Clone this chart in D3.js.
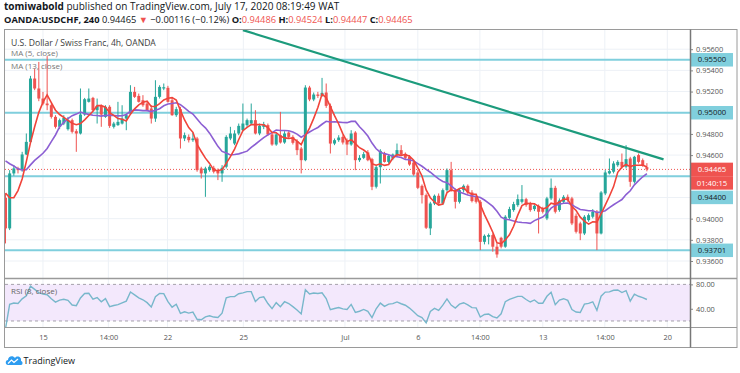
<!DOCTYPE html>
<html>
<head>
<meta charset="utf-8">
<script src="https://cdn.jsdelivr.net/npm/d3@7"></script>
<style>
  body { margin: 0; background: #fff; }
  svg { display: block; font-family: "Open Sans", sans-serif; }
</style>
</head>
<body>
<svg id="chart" width="740" height="373"></svg>
<script>
// closes before the first visible bar, only used to warm up MA / RSI
const leadCloses = [0.9478, 0.9475, 0.9480, 0.9474, 0.9470, 0.9473, 0.9468, 0.9470, 0.9465, 0.9447, 0.9412, 0.9406];

const opens = [
  0.94197, 0.93908, 0.94427, 0.94474, 0.94458, 0.94606, 0.94725, 0.95323, 0.95229, 0.95134,
  0.95087, 0.95071, 0.94961, 0.94867, 0.94898, 0.94845, 0.94930, 0.94826, 0.94804, 0.94983,
  0.95103, 0.95140, 0.95024, 0.95065, 0.94961, 0.95056, 0.94867, 0.94883, 0.94898, 0.94945,
  0.94993, 0.95197, 0.95159, 0.95118, 0.95087, 0.95040, 0.94945, 0.95150, 0.95229, 0.95235,
  0.95118, 0.94977, 0.95034, 0.94757, 0.94772, 0.94741, 0.94757, 0.94474, 0.94427, 0.94458,
  0.94480, 0.94458, 0.94427, 0.94490, 0.94757, 0.94709, 0.94804, 0.94835, 0.94883, 0.94898,
  0.94930, 0.94804, 0.94867, 0.94883, 0.94795, 0.94700, 0.94788, 0.94719, 0.94813, 0.94772,
  0.94732, 0.94662, 0.94552, 0.95238, 0.95125, 0.95172, 0.95159, 0.95191, 0.95065, 0.94709,
  0.94741, 0.94772, 0.94732, 0.94700, 0.94813, 0.94552, 0.94574, 0.94625, 0.94562, 0.94301,
  0.94486, 0.94615, 0.94536, 0.94568, 0.94600, 0.94647, 0.94612, 0.94584, 0.94530, 0.94436,
  0.94310, 0.94222, 0.93908, 0.94143, 0.94216, 0.94143, 0.94269, 0.94458, 0.94269, 0.94159,
  0.94269, 0.94310, 0.94247, 0.94206, 0.94159, 0.93781, 0.93829, 0.93845, 0.93735, 0.93819,
  0.93735, 0.94008, 0.94081, 0.94128, 0.94159, 0.94184, 0.94143, 0.94090, 0.94121, 0.94090,
  0.94002, 0.94191, 0.94291, 0.94081, 0.94159, 0.94206, 0.94191, 0.94027, 0.93955, 0.93860,
  0.93986, 0.94018, 0.94065, 0.93860, 0.94238, 0.94427, 0.94443, 0.94505, 0.94536, 0.94490,
  0.94568, 0.94348, 0.94600, 0.94552, 0.94486
];
const highs = [
  0.94238, 0.94458, 0.94505, 0.94490, 0.94631, 0.94804, 0.95348, 0.95417, 0.95480, 0.95197,
  0.95535, 0.95087, 0.94977, 0.94945, 0.94977, 0.94961, 0.94945, 0.94845, 0.95229, 0.95140,
  0.95229, 0.95150, 0.95134, 0.95078, 0.95071, 0.95071, 0.94914, 0.95103, 0.95071, 0.94993,
  0.95260, 0.95244, 0.95181, 0.95166, 0.95109, 0.95071, 0.95307, 0.95260, 0.95276, 0.95254,
  0.95140, 0.95056, 0.95056, 0.94813, 0.94795, 0.94813, 0.94772, 0.94490, 0.94490, 0.94505,
  0.94499, 0.94474, 0.94505, 0.94788, 0.94867, 0.94835, 0.94898, 0.95087, 0.94945, 0.95087,
  0.95024, 0.94898, 0.94914, 0.94898, 0.94813, 0.94813, 0.95008, 0.94826, 0.94826, 0.94788,
  0.94750, 0.94678, 0.95260, 0.95254, 0.95191, 0.95197, 0.95329, 0.95276, 0.95087, 0.94757,
  0.94788, 0.94788, 0.94757, 0.94835, 0.94826, 0.94600, 0.94631, 0.94647, 0.94574, 0.94505,
  0.94656, 0.94631, 0.94606, 0.94615, 0.94709, 0.94694, 0.94625, 0.94600, 0.94542, 0.94458,
  0.94323, 0.94238, 0.94159, 0.94228, 0.94238, 0.94285, 0.94474, 0.94536, 0.94285, 0.94285,
  0.94323, 0.94323, 0.94269, 0.94222, 0.94175, 0.93851, 0.93860, 0.93860, 0.93766, 0.93829,
  0.94033, 0.94112, 0.94159, 0.94228, 0.94317, 0.94197, 0.94159, 0.94134, 0.94134, 0.94112,
  0.94206, 0.94379, 0.94310, 0.94191, 0.94222, 0.94228, 0.94206, 0.94049, 0.93971, 0.94033,
  0.94049, 0.94090, 0.94081, 0.94260, 0.94458, 0.94568, 0.94542, 0.94552, 0.94615, 0.94694,
  0.94584, 0.94593, 0.94615, 0.94568, 0.94524
];
const lows = [
  0.93766, 0.93892, 0.94405, 0.94427, 0.94443, 0.94600, 0.94709, 0.95213, 0.95109, 0.95071,
  0.95024, 0.94945, 0.94851, 0.94845, 0.94883, 0.94832, 0.94804, 0.94631, 0.94795, 0.94971,
  0.95096, 0.95015, 0.94898, 0.94867, 0.94952, 0.94857, 0.94851, 0.94876, 0.94889, 0.94835,
  0.94983, 0.95140, 0.95096, 0.95056, 0.95015, 0.94898, 0.94914, 0.95134, 0.95213, 0.95096,
  0.94971, 0.94961, 0.94662, 0.94732, 0.94719, 0.94725, 0.94443, 0.94379, 0.94206, 0.94443,
  0.94427, 0.94364, 0.94348, 0.94474, 0.94741, 0.94694, 0.94788, 0.94826, 0.94867, 0.94883,
  0.94795, 0.94788, 0.94845, 0.94782, 0.94688, 0.94688, 0.94709, 0.94707, 0.94757, 0.94700,
  0.94600, 0.94427, 0.94542, 0.95109, 0.95109, 0.95140, 0.95150, 0.95046, 0.94615, 0.94694,
  0.94725, 0.94700, 0.94600, 0.94688, 0.94458, 0.94536, 0.94562, 0.94542, 0.94269, 0.94285,
  0.94332, 0.94530, 0.94521, 0.94552, 0.94584, 0.94593, 0.94562, 0.94499, 0.94405, 0.94279,
  0.94143, 0.93902, 0.93845, 0.94128, 0.94128, 0.94128, 0.94254, 0.94254, 0.94096, 0.94143,
  0.94247, 0.94228, 0.94153, 0.94143, 0.93703, 0.93757, 0.93757, 0.93688, 0.93631, 0.93719,
  0.93725, 0.93996, 0.94065, 0.94112, 0.94143, 0.94112, 0.94065, 0.94071, 0.93860, 0.94049,
  0.93986, 0.94175, 0.94049, 0.94065, 0.94143, 0.94159, 0.93939, 0.93860, 0.93797, 0.93845,
  0.93971, 0.94002, 0.93703, 0.93851, 0.94222, 0.94417, 0.94427, 0.94490, 0.94474, 0.94474,
  0.94301, 0.94332, 0.94521, 0.94490, 0.94447
];
const closes = [
  0.93908, 0.94427, 0.94474, 0.94458, 0.94606, 0.94725, 0.95323, 0.95229, 0.95134, 0.95087,
  0.95071, 0.94961, 0.94867, 0.94930, 0.94952, 0.94930, 0.94820, 0.94804, 0.94983, 0.95128,
  0.95134, 0.95024, 0.95065, 0.94983, 0.95056, 0.94876, 0.94898, 0.94914, 0.94945, 0.94977,
  0.95197, 0.95150, 0.95103, 0.95071, 0.95024, 0.94945, 0.95150, 0.95244, 0.95241, 0.95103,
  0.94977, 0.95034, 0.94757, 0.94788, 0.94741, 0.94757, 0.94458, 0.94427, 0.94474, 0.94490,
  0.94443, 0.94427, 0.94480, 0.94772, 0.94804, 0.94804, 0.94876, 0.94898, 0.94930, 0.94930,
  0.94804, 0.94876, 0.94892, 0.94795, 0.94700, 0.94795, 0.94719, 0.94804, 0.94772, 0.94716,
  0.94647, 0.94552, 0.95238, 0.95125, 0.95172, 0.95159, 0.95188, 0.95065, 0.94709, 0.94741,
  0.94766, 0.94719, 0.94700, 0.94804, 0.94552, 0.94574, 0.94609, 0.94552, 0.94301, 0.94486,
  0.94640, 0.94536, 0.94593, 0.94606, 0.94647, 0.94606, 0.94574, 0.94511, 0.94417, 0.94291,
  0.94222, 0.93914, 0.94143, 0.94216, 0.94143, 0.94269, 0.94458, 0.94269, 0.94159, 0.94269,
  0.94310, 0.94247, 0.94166, 0.94159, 0.93781, 0.93838, 0.93845, 0.93735, 0.93662, 0.93735,
  0.94018, 0.94090, 0.94137, 0.94184, 0.94184, 0.94128, 0.94081, 0.94121, 0.94065, 0.94065,
  0.94191, 0.94291, 0.94065, 0.94172, 0.94206, 0.94175, 0.93955, 0.93876, 0.93860, 0.94018,
  0.94033, 0.94065, 0.93860, 0.94247, 0.94436, 0.94449, 0.94521, 0.94536, 0.94490, 0.94562,
  0.94348, 0.94584, 0.94536, 0.94505, 0.94465
];

const timeTickIndex = [9, 24.7, 38.9, 57.1, 81.5, 99, 113.9, 129, 143.9, 158.9];
const timeTickLabels = ['15', '14:00', '22', '25', 'Jul', '6', '14:00', '13', '14:00', '20'];
const priceTicks = [0.956, 0.954, 0.952, 0.950, 0.948, 0.946, 0.944, 0.942, 0.940, 0.938, 0.936];
const levels = [0.955, 0.950, 0.944, 0.93701];
const trendLine = [[57, 0.9578], [158, 0.9456]];
const rsiTicks = [80, 40];
const rsiBand = [20, 80];
const lastPrice = 0.94465;
const countdown = '01:40:15';

const svg = d3.select('#chart');
const pL = 5, pR = 690, pT = 29.5, pB = 277;
const rsiT = 279.5, rsiB = 327.5, axisB = 347.5, frameR = 737;

const up = '#26a69a', down = '#ef5350';
const levelColor = '#80cfdd';
const gridColor = '#edf1f6';
const axisFont = 7.4;

const x = d3.scaleLinear().domain([-0.12, 164.35]).range([pL, pR]);
const y = d3.scaleLinear().domain([0.93449, 0.95786]).range([pB, pT]);
const yr = d3.scaleLinear().domain([9.3, 88]).range([rsiB, rsiT]);

// clip paths for the two panes
const defs = svg.append('defs');
defs.append('clipPath').attr('id', 'mainClip')
  .append('rect').attr('x', pL).attr('y', pT).attr('width', pR - pL).attr('height', pB - pT);
defs.append('clipPath').attr('id', 'rsiClip')
  .append('rect').attr('x', pL).attr('y', rsiT).attr('width', pR - pL).attr('height', rsiB - rsiT);

// header
const header = svg.append('g').attr('fill', '#131722');
header.append('text').attr('x', 4).attr('y', 10).attr('font-size', 10)
  .call(t => {
    t.append('tspan').attr('font-weight', 700).text('tomiwabold');
    t.append('tspan').text(' published on TradingView.com, July 17, 2020 08:19:49 WAT');
  });
header.append('text').attr('x', 4).attr('y', 23).attr('font-size', 9.3)
  .call(t => {
    t.append('tspan').attr('font-weight', 700).text('OANDA:USDCHF, 240');
    t.append('tspan').text(' 0.94465 ');
    t.append('tspan').attr('fill', down).text('▼');
    t.append('tspan').text(' \u22120.00116 (\u22120.12%) ');
    const ohlc = [['O:', opens], ['H:', highs], ['L:', lows], ['C:', closes]];
    ohlc.forEach(([k, arr], j) => {
      t.append('tspan').attr('font-weight', 700).text((j ? ' ' : '') + k);
      t.append('tspan').attr('fill', down).text(arr[arr.length - 1].toFixed(5));
    });
  });

// grid
const grid = svg.append('g');
grid.selectAll('.vg').data(timeTickIndex).join('line')
  .attr('x1', d => x(d)).attr('x2', d => x(d))
  .attr('y1', pT).attr('y2', rsiB)
  .attr('stroke', gridColor);
grid.selectAll('.hg').data(priceTicks).join('line')
  .attr('x1', pL).attr('x2', pR)
  .attr('y1', d => y(d)).attr('y2', d => y(d))
  .attr('stroke', gridColor);

// main pane
const main = svg.append('g').attr('clip-path', 'url(#mainClip)');

main.selectAll('.level').data(levels).join('line')
  .attr('x1', pL).attr('x2', pR)
  .attr('y1', d => y(d)).attr('y2', d => y(d))
  .attr('stroke', levelColor).attr('stroke-width', 2);

main.append('line')
  .attr('x1', pL).attr('x2', pR)
  .attr('y1', y(lastPrice)).attr('y2', y(lastPrice))
  .attr('stroke', down).attr('stroke-width', 1).attr('stroke-dasharray', '1,2');

const bars = closes.map((c, i) => ({ i, o: opens[i], h: highs[i], l: lows[i], c }));
const candle = main.selectAll('.candle').data(bars).join('g')
  .attr('class', 'candle');
candle.append('line')
  .attr('x1', d => x(d.i)).attr('x2', d => x(d.i))
  .attr('y1', d => y(d.h)).attr('y2', d => y(d.l))
  .attr('stroke', d => d.c >= d.o ? up : down).attr('stroke-width', 1);
candle.append('rect')
  .attr('x', d => x(d.i) - 1.5).attr('width', 3)
  .attr('y', d => y(Math.max(d.o, d.c)))
  .attr('height', d => Math.max(1, Math.abs(y(d.o) - y(d.c))))
  .attr('fill', d => d.c >= d.o ? up : down);

// moving averages computed from the closes
const allCloses = leadCloses.concat(closes);
const lead = leadCloses.length;
const sma = n => closes.map((c, i) => {
  const j = i + lead;
  return d3.mean(allCloses.slice(Math.max(0, j - n + 1), j + 1));
});
const maLine = d3.line().x((d, i) => x(i)).y(d => y(d));
main.append('path').datum(sma(13)).attr('d', maLine)
  .attr('fill', 'none').attr('stroke', '#8c5fd3').attr('stroke-width', 1.6);
main.append('path').datum(sma(5)).attr('d', maLine)
  .attr('fill', 'none').attr('stroke', '#f0443a').attr('stroke-width', 1.6);

main.append('line')
  .attr('x1', x(trendLine[0][0])).attr('y1', y(trendLine[0][1]))
  .attr('x2', x(trendLine[1][0])).attr('y2', y(trendLine[1][1]))
  .attr('stroke', '#1c9b7c').attr('stroke-width', 2.2);

// legend
svg.append('text').attr('x', 11).attr('y', 45.5).attr('font-size', 8.6).attr('fill', '#3b3b3b')
  .text('U.S. Dollar / Swiss Franc, 4h, OANDA');
svg.append('text').attr('x', 11).attr('y', 56.3).attr('font-size', 8).attr('fill', '#777')
  .text('MA (5, close)');
svg.append('text').attr('x', 11).attr('y', 69).attr('font-size', 8).attr('fill', '#777')
  .text('MA (13, close)');

// RSI pane
const period = 8;
let gain = 0, loss = 0;
const rsiAll = allCloses.map((c, k) => {
  if (k === 0) return null;
  const ch = c - allCloses[k - 1];
  const g = Math.max(ch, 0), l = Math.max(-ch, 0);
  if (k <= period) {
    gain += g / period; loss += l / period;
    return k === period ? 100 - 100 / (1 + gain / loss) : null;
  }
  gain = (gain * (period - 1) + g) / period;
  loss = (loss * (period - 1) + l) / period;
  return 100 - 100 / (1 + gain / loss);
});
const rsi = rsiAll.slice(lead);

const rsiG = svg.append('g').attr('clip-path', 'url(#rsiClip)');
rsiG.append('rect')
  .attr('x', pL).attr('width', pR - pL)
  .attr('y', yr(rsiBand[1])).attr('height', yr(rsiBand[0]) - yr(rsiBand[1]))
  .attr('fill', '#f3e8fc');
rsiG.selectAll('.band').data(rsiBand).join('line')
  .attr('x1', pL).attr('x2', pR)
  .attr('y1', d => yr(d)).attr('y2', d => yr(d))
  .attr('stroke', '#a5a0aa').attr('stroke-dasharray', '3,3');
rsiG.append('path').datum(rsi)
  .attr('d', d3.line().x((d, i) => x(i)).y(d => yr(d)))
  .attr('fill', 'none').attr('stroke', '#78b7cb').attr('stroke-width', 1.4);
svg.append('text').attr('x', 11).attr('y', 293.5).attr('font-size', 8).attr('fill', '#666')
  .text('RSI (8, close)');

// price scale labels, skipping those hidden under the marker boxes
const boxW = 42, boxH = 13.5, boxX = pR + 1;
const markers = [];
markers.push({ y: y(lastPrice), text: lastPrice.toFixed(5), fill: down, color: '#fff' });
markers.push({ y: y(lastPrice) + boxH, text: countdown, fill: down, color: '#fff' });
levels.map(d => ({ y: y(d), text: d.toFixed(5), fill: levelColor, color: '#131722' }))
  .sort((a, b) => a.y - b.y)
  .forEach(m => {
    markers.forEach(o => {
      if (Math.abs(o.y - m.y) < boxH) m.y = o.y + boxH + 1;
    });
    markers.push(m);
  });

const visibleTicks = priceTicks.filter(p => markers.every(m => Math.abs(y(p) - m.y) > 9.5));
const priceAxis = svg.append('g').attr('transform', `translate(${pR},0)`)
  .call(d3.axisRight(y).tickValues(visibleTicks).tickFormat(d3.format('.5f')).tickSize(3).tickPadding(3));
priceAxis.select('.domain').remove();
priceAxis.selectAll('text').attr('font-family', '"Open Sans", sans-serif').attr('font-size', axisFont).attr('fill', '#555');
priceAxis.selectAll('line').attr('stroke', '#888');

const mk = svg.selectAll('.marker').data(markers).join('g').attr('class', 'marker');
mk.append('rect')
  .attr('x', boxX).attr('y', d => d.y - boxH / 2)
  .attr('width', boxW).attr('height', boxH)
  .attr('fill', d => d.fill);
mk.append('text')
  .attr('x', boxX + boxW / 2).attr('y', d => d.y + 2.7)
  .attr('text-anchor', 'middle').attr('font-size', axisFont + 0.3)
  .attr('fill', d => d.color)
  .text(d => d.text);

// RSI scale
const rsiAxis = svg.append('g').attr('transform', `translate(${pR},0)`)
  .call(d3.axisRight(yr).tickValues(rsiTicks).tickFormat(d3.format('.2f')).tickSize(3).tickPadding(3));
rsiAxis.select('.domain').remove();
rsiAxis.selectAll('text').attr('font-family', '"Open Sans", sans-serif').attr('font-size', axisFont).attr('fill', '#555');
rsiAxis.selectAll('line').attr('stroke', '#888');

// time axis
const timeAxis = svg.append('g').attr('transform', `translate(0,${rsiB})`)
  .call(d3.axisBottom(x).tickValues(timeTickIndex).tickFormat((d, i) => timeTickLabels[i]).tickSize(0).tickPadding(7));
timeAxis.select('.domain').remove();
timeAxis.selectAll('text').attr('font-family', '"Open Sans", sans-serif').attr('font-size', axisFont).attr('fill', '#555');

// frame
const frame = svg.append('g').attr('fill', 'none').attr('stroke', '#9a9a9a');
frame.append('rect').attr('x', 4.5).attr('y', 29.5).attr('width', frameR - 4.5).attr('height', axisB - 29.5);
frame.append('line').attr('x1', 4.5).attr('x2', frameR).attr('y1', 278.5).attr('y2', 278.5).attr('stroke-width', 1.5);
frame.append('line').attr('x1', 4.5).attr('x2', frameR).attr('y1', rsiB).attr('y2', rsiB);
frame.append('line').attr('x1', pR + 0.5).attr('x2', pR + 0.5).attr('y1', 29.5).attr('y2', axisB)
  .attr('stroke', '#777').attr('stroke-width', 1.5);

// footer logo
const logo = svg.append('g').attr('transform', 'translate(5,354)');
logo.append('path')
  .attr('d', 'M3,11 C0,11 0,6 3,6 C3,2 8,1 10,4 C12,1 17,3 16,7 C18,7 18,11 16,11 Z')
  .attr('fill', '#2d9cf0');
logo.append('path').attr('d', 'M3,9.5 L6.5,6 L9,8.5 L13,5')
  .attr('fill', 'none').attr('stroke', '#fff').attr('stroke-width', 1.2);
svg.append('text').attr('x', 23.5).attr('y', 363.5).attr('font-size', 9).attr('fill', '#131722')
  .text('TradingView');
</script>
</body>
</html>
